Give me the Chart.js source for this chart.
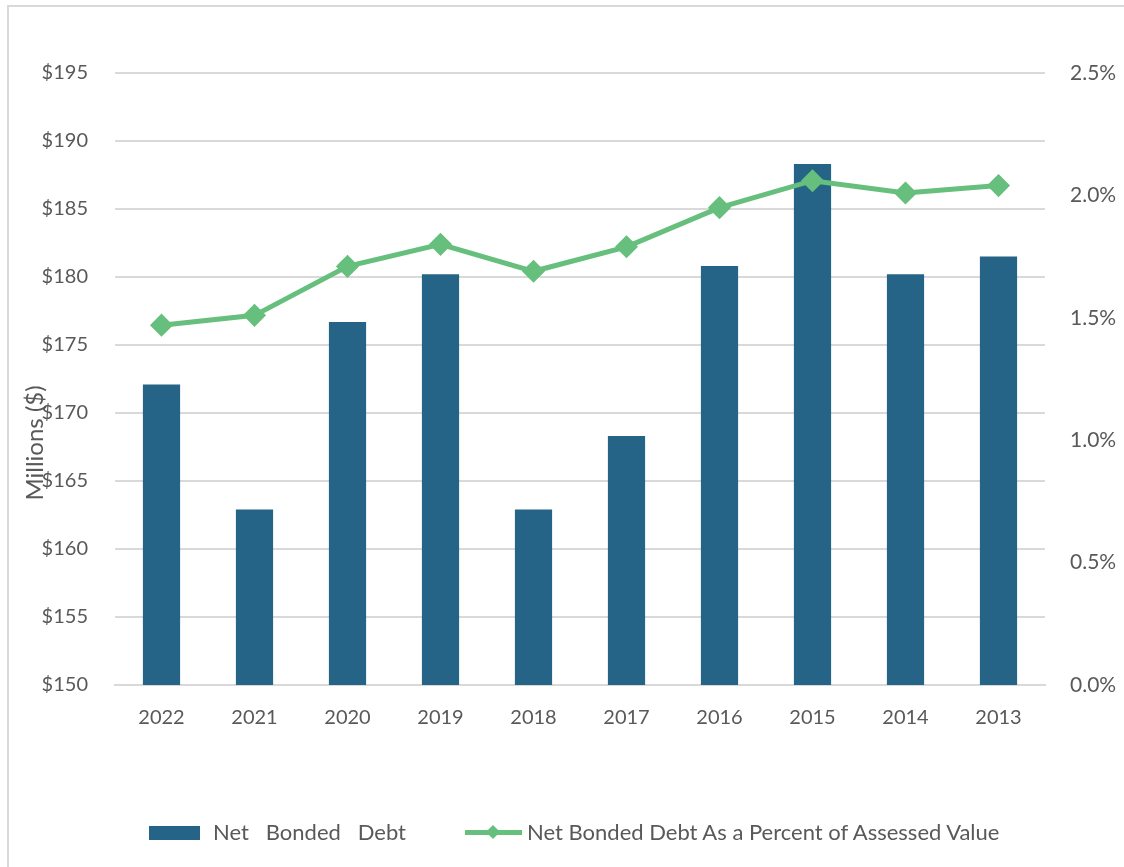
<!DOCTYPE html>
<html>
<head>
<meta charset="utf-8">
<script src="https://cdn.jsdelivr.net/npm/chart.js@4"></script>
<style>
  html, body { margin: 0; padding: 0; background: #fff; overflow: hidden; }
  #wrap { position: relative; width: 1124px; height: 867px; overflow: hidden; }
  #frame { position: absolute; left: 7px; top: 5px; width: 1200px; height: 1000px; border: 2px solid #d9d9d9; box-sizing: border-box; }
  canvas { position: absolute; left: 0; top: 0; }
  .leg { position: absolute; font-family: Lato, "Open Sans", sans-serif; font-size: 22px; color: #595959; white-space: pre; line-height: 1; }
  #sw1 { position: absolute; left: 149px; top: 826px; width: 51px; height: 14px; background: #256487; }
  #sw2 { position: absolute; left: 465px; top: 830px; width: 57px; height: 5px; background: #66bf7d; }
  #sw2d { position: absolute; left: 488px; top: 827px; width: 10px; height: 10px; background: #66bf7d; transform: rotate(45deg); }
</style>
</head>
<body>
<div id="wrap">
  <div id="frame"></div>
  <canvas id="c" width="1124" height="867"></canvas>
  <div id="sw1"></div>
  <div class="leg" id="t1" style="left:213px; top:821px;">Net   Bonded   Debt</div>
  <div id="sw2"></div>
  <div id="sw2d"></div>
  <div class="leg" id="t2" style="left:527px; top:821px;">Net Bonded Debt As a Percent of Assessed Value</div>
</div>
<script>
// Fiscal years, newest first
const years = ['2022', '2021', '2020', '2019', '2018', '2017', '2016', '2015', '2014', '2013'];
// Net bonded debt, millions of dollars
const netBondedDebt = [172.1, 162.9, 176.7, 180.2, 162.9, 168.3, 180.8, 188.3, 180.2, 181.5];
// Net bonded debt as a percent of assessed value
const pctOfAssessed = [1.47, 1.51, 1.71, 1.80, 1.69, 1.79, 1.95, 2.06, 2.01, 2.04];

const seriesNames = ['Net   Bonded   Debt', 'Net Bonded Debt As a Percent of Assessed Value'];
const axisTitle = 'Millions ($)';

const textColor = '#595959';
const gridColor = '#d9d9d9';
const fontFamily = 'Lato, "Open Sans", sans-serif';

// Rotated left-axis title, drawn beside the dollar tick labels
const axisTitlePlugin = {
  id: 'axisTitle',
  afterDraw(chart) {
    const ctx = chart.ctx;
    ctx.save();
    ctx.translate(35, 443);
    ctx.rotate(-Math.PI / 2);
    ctx.font = '24px ' + fontFamily;
    ctx.fillStyle = textColor;
    ctx.textAlign = 'center';
    ctx.textBaseline = 'middle';
    ctx.fillText(axisTitle, 0, 0);
    ctx.restore();
  }
};

new Chart(document.getElementById('c'), {
  type: 'bar',
  data: {
    labels: years,
    datasets: [
      {
        type: 'line',
        label: seriesNames[1],
        data: pctOfAssessed,
        yAxisID: 'y1',
        borderColor: '#66bf7d',
        backgroundColor: '#66bf7d',
        borderWidth: 5,
        pointStyle: 'rectRot',
        pointRadius: 8,
        pointHoverRadius: 8,
        tension: 0,
        order: 0
      },
      {
        type: 'bar',
        label: seriesNames[0],
        data: netBondedDebt,
        yAxisID: 'y',
        backgroundColor: '#256487',
        borderWidth: 0,
        categoryPercentage: 1,
        barPercentage: 0.4,
        order: 1
      }
    ]
  },
  options: {
    responsive: false,
    animation: false,
    events: [],
    layout: { padding: { top: 73, right: 0, left: 0, bottom: 0 } },
    plugins: {
      legend: { display: false },
      tooltip: { enabled: false }
    },
    scales: {
      x: {
        grid: { display: false, drawTicks: false },
        border: { display: true, color: gridColor, width: 2 },
        ticks: { color: textColor, font: { family: fontFamily, size: 20 }, padding: 21, maxRotation: 0 },
        afterFit(s) { s.height = 867 - 685; }
      },
      y: {
        position: 'left',
        min: 150,
        max: 195,
        grid: { color: gridColor, lineWidth: 2, drawTicks: false },
        border: { display: false },
        ticks: {
          stepSize: 5,
          padding: 27,
          color: textColor,
          font: { family: fontFamily, size: 20 },
          callback: v => '$' + v
        },
        afterFit(s) { s.width = 115; }
      },
      y1: {
        position: 'right',
        min: 0,
        max: 2.5,
        grid: { display: false, drawTicks: false },
        border: { display: false },
        ticks: {
          stepSize: 0.5,
          padding: 25,
          color: textColor,
          font: { family: fontFamily, size: 21 },
          callback: v => v.toFixed(1) + '%'
        },
        afterFit(s) { s.width = 1124 - 1045; }
      }
    }
  },
  plugins: [axisTitlePlugin]
});
</script>
</body>
</html>
